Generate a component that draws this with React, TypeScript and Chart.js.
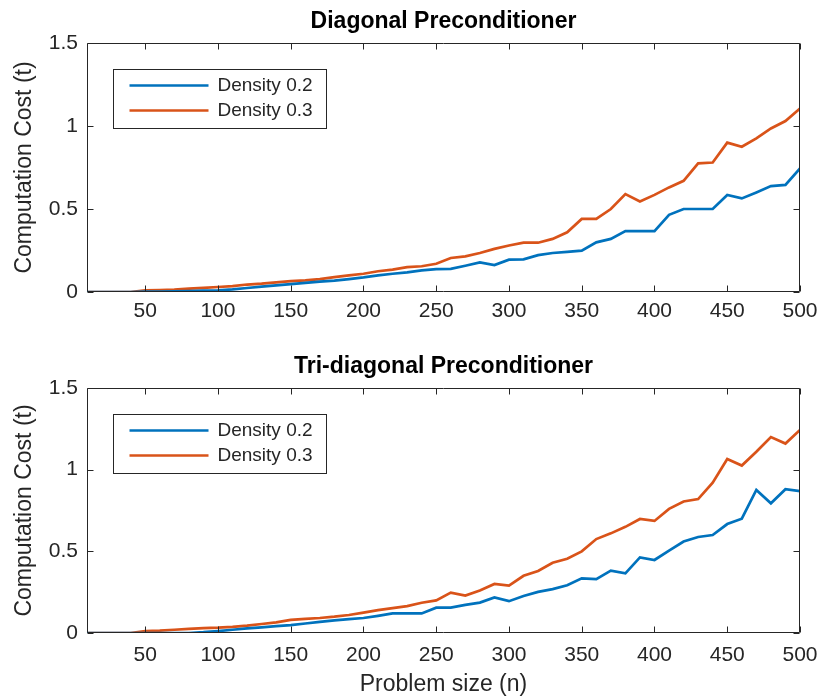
import React, { useEffect, useRef } from "react";
import { Chart, registerables } from "chart.js";

Chart.register(...registerables);

const problemSizes = [
  10, 20, 30, 40, 50, 60, 70, 80, 90, 100,
  110, 120, 130, 140, 150, 160, 170, 180, 190, 200,
  210, 220, 230, 240, 250, 260, 270, 280, 290, 300,
  310, 320, 330, 340, 350, 360, 370, 380, 390, 400,
  410, 420, 430, 440, 450, 460, 470, 480, 490, 500,
];

const xTicks = [50, 100, 150, 200, 250, 300, 350, 400, 450, 500];
const yTicks = [0, 0.5, 1, 1.5];

const seriesLabels = ["Density 0.2", "Density 0.3"];
const seriesColors = ["#0072BD", "#D95319"];
const subplotTitles = ["Diagonal Preconditioner", "Tri-diagonal Preconditioner"];
const yAxisTitle = "Computation Cost (t)";
const xAxisTitle = "Problem size (n)";

const diagDensity02 = [
  0, 0, 0, 0, 0.002, 0.003, 0.004, 0.006, 0.008, 0.01,
  0.016, 0.024, 0.032, 0.04, 0.048, 0.055, 0.062, 0.068, 0.078, 0.088,
  0.1, 0.11, 0.118, 0.13, 0.138, 0.139, 0.158, 0.178, 0.162, 0.195,
  0.197, 0.222, 0.235, 0.242, 0.249, 0.299, 0.32, 0.367, 0.367, 0.367,
  0.465, 0.5, 0.5, 0.5, 0.584, 0.564, 0.6, 0.638, 0.645, 0.745,
];

const diagDensity03 = [
  0, 0, 0, 0, 0.01, 0.012, 0.015, 0.02, 0.025, 0.03,
  0.035, 0.045, 0.05, 0.058, 0.065, 0.07, 0.078, 0.09, 0.1, 0.11,
  0.125, 0.135, 0.15, 0.155, 0.17, 0.205, 0.215, 0.235, 0.26, 0.28,
  0.297, 0.297, 0.32, 0.36, 0.44, 0.44, 0.5, 0.59, 0.545, 0.585,
  0.63, 0.67, 0.775, 0.78, 0.9, 0.875, 0.925, 0.985, 1.03, 1.106,
];

const triDensity02 = [
  0, 0, 0, 0, 0, 0, 0, 0, 0.005, 0.012,
  0.02, 0.028, 0.035, 0.042, 0.048, 0.058, 0.068, 0.077, 0.085, 0.092,
  0.105, 0.12, 0.12, 0.12, 0.155, 0.155, 0.172, 0.186, 0.218, 0.195,
  0.227, 0.252, 0.269, 0.292, 0.335, 0.33, 0.382, 0.365, 0.463, 0.447,
  0.505, 0.56, 0.588, 0.6, 0.667, 0.7, 0.876, 0.794, 0.88, 0.869,
];

const triDensity03 = [
  0, 0, 0, 0, 0.012, 0.015, 0.02, 0.025, 0.03, 0.033,
  0.038, 0.045, 0.055, 0.065, 0.08, 0.086, 0.092, 0.1, 0.11, 0.125,
  0.14, 0.152, 0.165, 0.185, 0.2, 0.247, 0.229, 0.26, 0.3, 0.29,
  0.35, 0.38, 0.43, 0.455, 0.5, 0.575, 0.61, 0.65, 0.698, 0.686,
  0.76, 0.805, 0.82, 0.92, 1.065, 1.025, 1.11, 1.2, 1.16, 1.243,
];

const FONT = '"Liberation Sans", Arial, Helvetica, sans-serif';
const AXIS_COLOR = "#262626";

const matlabFrame = {
  id: "matlabFrame",
  afterDraw(chart: any, _args: any, opts: any) {
    const { ctx, chartArea, scales } = chart;
    const { left, right, top, bottom } = chartArea;
    const x = scales.x;
    const y = scales.y;
    ctx.save();
    ctx.strokeStyle = AXIS_COLOR;
    ctx.lineWidth = 1;
    const L = Math.round(left) + 0.5;
    const R = Math.round(right) - 0.5;
    const T = Math.round(top) + 0.5;
    const B = Math.round(bottom) - 0.5;
    ctx.beginPath();
    ctx.rect(L, T, R - L, B - T);
    ctx.stroke();
    const tl = 6;
    ctx.beginPath();
    xTicks.forEach((v) => {
      const px = Math.round(x.getPixelForValue(v)) + 0.5;
      ctx.moveTo(px, B);
      ctx.lineTo(px, B - tl);
      ctx.moveTo(px, T);
      ctx.lineTo(px, T + tl);
    });
    yTicks.forEach((v) => {
      const py = Math.round(y.getPixelForValue(v)) + 0.5;
      ctx.moveTo(L, py);
      ctx.lineTo(L + tl, py);
      ctx.moveTo(R, py);
      ctx.lineTo(R - tl, py);
    });
    ctx.stroke();
    ctx.fillStyle = "#000";
    ctx.font = `bold 23px ${FONT}`;
    ctx.textAlign = "center";
    ctx.textBaseline = "alphabetic";
    ctx.fillText(opts.title, (left + right) / 2, top - 15);
    const bx = Math.round(left) + 26 + 0.5;
    const by = Math.round(top) + 26 + 0.5;
    const bw = 213;
    const bh = 59;
    ctx.fillStyle = "#fff";
    ctx.fillRect(bx, by, bw, bh);
    ctx.strokeStyle = AXIS_COLOR;
    ctx.lineWidth = 1;
    ctx.strokeRect(bx, by, bw, bh);
    ctx.font = `19px ${FONT}`;
    ctx.textAlign = "left";
    ctx.textBaseline = "middle";
    chart.data.datasets.forEach((ds: any, i: number) => {
      const ry = by + 16 + 25 * i;
      ctx.strokeStyle = ds.borderColor;
      ctx.lineWidth = 2.7;
      ctx.beginPath();
      ctx.moveTo(bx + 16, ry);
      ctx.lineTo(bx + 95, ry);
      ctx.stroke();
      ctx.fillStyle = AXIS_COLOR;
      ctx.fillText(ds.label, bx + 104, ry);
    });
    ctx.restore();
  },
};

type SubplotProps = {
  title: string;
  d02: number[];
  d03: number[];
  showXTitle: boolean;
  padTop: number;
  xAxisHeight: number;
  xTickPad: number;
  height: number;
};

function Subplot({ title, d02, d03, showXTitle, padTop, xAxisHeight, xTickPad, height }: SubplotProps) {
  const ref = useRef<HTMLCanvasElement | null>(null);
  useEffect(() => {
    if (!ref.current) return;
    const chart = new Chart(ref.current, {
      type: "line",
      data: {
        datasets: [
          {
            label: seriesLabels[0],
            data: problemSizes.map((n, i) => ({ x: n, y: d02[i] })),
            borderColor: seriesColors[0],
            backgroundColor: seriesColors[0],
            borderWidth: 2.7,
            pointRadius: 0,
            tension: 0,
          },
          {
            label: seriesLabels[1],
            data: problemSizes.map((n, i) => ({ x: n, y: d03[i] })),
            borderColor: seriesColors[1],
            backgroundColor: seriesColors[1],
            borderWidth: 2.7,
            pointRadius: 0,
            tension: 0,
          },
        ],
      },
      options: {
        animation: false,
        responsive: false,
        maintainAspectRatio: false,
        layout: { padding: { left: 0, right: 20, top: padTop, bottom: 0 } },
        plugins: {
          legend: { display: false },
          title: { display: false },
          tooltip: { enabled: false },
          matlabFrame: { title },
        } as any,
        scales: {
          x: {
            type: "linear",
            min: 10,
            max: 500,
            grid: { display: false, drawTicks: false },
            border: { display: false },
            afterBuildTicks: (axis: any) => {
              axis.ticks = xTicks.map((v) => ({ value: v }));
            },
            afterFit: (axis: any) => {
              axis.height = xAxisHeight;
              axis.paddingLeft = 0;
              axis.paddingRight = 0;
            },
            ticks: {
              padding: xTickPad,
              color: AXIS_COLOR,
              font: { family: FONT, size: 21 },
              maxRotation: 0,
              autoSkip: false,
              callback: (v: any) => String(v),
            },
            title: {
              display: showXTitle,
              text: xAxisTitle,
              color: AXIS_COLOR,
              font: { family: FONT, size: 23 },
              padding: { top: 0, bottom: 0 },
            },
          },
          y: {
            type: "linear",
            min: 0,
            max: 1.5,
            grid: { display: false, drawTicks: false },
            border: { display: false },
            afterBuildTicks: (axis: any) => {
              axis.ticks = yTicks.map((v) => ({ value: v }));
            },
            afterFit: (axis: any) => {
              axis.width = 87;
              axis.paddingTop = 0;
              axis.paddingBottom = 0;
            },
            ticks: {
              padding: 9,
              color: AXIS_COLOR,
              font: { family: FONT, size: 21 },
              callback: (v: any) => String(v),
            },
            title: {
              display: true,
              text: yAxisTitle,
              color: AXIS_COLOR,
              font: { family: FONT, size: 23 },
              padding: { top: 11, bottom: 0 },
            },
          },
        },
      },
      plugins: [matlabFrame],
    });
    return () => chart.destroy();
  }, [title, d02, d03, showXTitle, padTop, xAxisHeight, xTickPad, height]);

  return <canvas ref={ref} width={820} height={height} style={{ display: "block", width: 820, height }} />;
}

export default function App() {
  return (
    <div style={{ position: "absolute", left: 0, top: 0, width: 820, height: 698, background: "#fff" }}>
      <Subplot
        title={subplotTitles[0]}
        d02={diagDensity02}
        d03={diagDensity03}
        showXTitle={false}
        padTop={43}
        xAxisHeight={57}
        xTickPad={7}
        height={349}
      />
      <Subplot
        title={subplotTitles[1]}
        d02={triDensity02}
        d03={triDensity03}
        showXTitle={true}
        padTop={39}
        xAxisHeight={65}
        xTickPad={10}
        height={349}
      />
    </div>
  );
}
